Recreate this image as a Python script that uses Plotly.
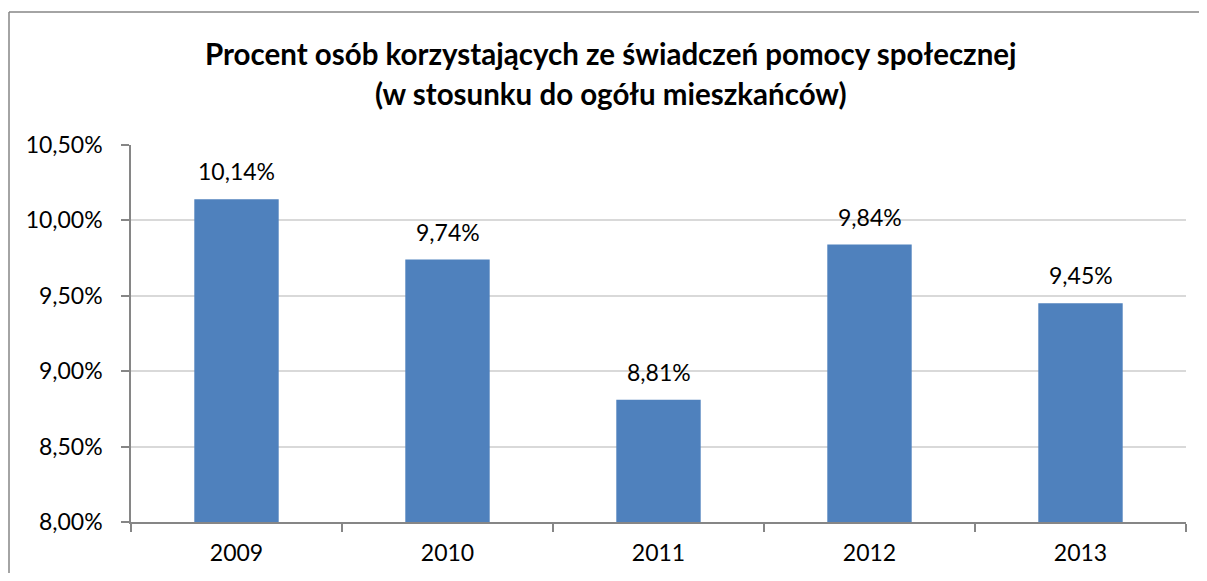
import plotly.graph_objects as go

years = ["2009", "2010", "2011", "2012", "2013"]
values = [10.14, 9.74, 8.81, 9.84, 9.45]
y_ticks = [8.0, 8.5, 9.0, 9.5, 10.0, 10.5]
title_lines = ["Procent osób korzystających ze świadczeń pomocy społecznej",
               "(w stosunku do ogółu mieszkańców)"]

FONT = "Lato"
OFF = 8  # page body margin
W, H = 1191, 565
L, T = 131 - OFF, 145 - OFF
R = W - (1186 - OFF)
B = H - (522 - OFF)
pw, ph = W - L - R, H - T - B

def fmt(v):
    return f"{v:.2f}".replace(".", ",") + "%"

fig = go.Figure()
fig.add_trace(go.Bar(x=years, y=values, marker=dict(color="#4F81BD", line=dict(width=0)),
                     width=0.4, hoverinfo="skip"))

for i, v in enumerate(values):
    fig.add_annotation(x=i, y=v, xref="x", yref="y", text=fmt(v), showarrow=False,
                       yanchor="bottom", yshift=12,
                       font=dict(family=FONT, size=23, color="#000000"))

# title lines
for i, line in enumerate(title_lines):
    fig.add_annotation(xref="paper", yref="paper", x=(611 - OFF - L) / pw,
                       y=1 + (T - (46 + 40 * i)) / ph, text="<b>" + line + "</b>",
                       showarrow=False, xanchor="center", yanchor="middle",
                       font=dict(family=FONT, size=29.5, color="#000000"))

# outer chart border (left and top edges; the rest lies outside the view)
bx = (9 - OFF - L) / pw
by = 1 + (T - (12 - OFF)) / ph
fig.add_shape(type="line", xref="paper", yref="paper", x0=bx, x1=bx, y0=-0.5, y1=by,
              line=dict(color="#868686", width=1.5), layer="below")
fig.add_shape(type="line", xref="paper", yref="paper", x0=bx, x1=1.2, y0=by, y1=by,
              line=dict(color="#868686", width=1.5), layer="below")

fig.update_layout(
    width=W, height=H, margin=dict(l=L, r=R, t=T, b=B, autoexpand=False),
    plot_bgcolor="white", paper_bgcolor="white", showlegend=False,
    separators=",.",
    font=dict(family=FONT, size=23, color="#000000"),
    xaxis=dict(type="category", range=[-0.5, 4.5], autorange=False,
               showline=True, linecolor="#868686", linewidth=1.5,
               ticks="outside", tickson="boundaries", ticklen=8, tickcolor="#868686",
               tickwidth=1.5, showgrid=False, tickfont=dict(size=23),
               ticklabelstandoff=10),
    yaxis=dict(range=[8.0, 10.5], autorange=False, tickvals=y_ticks,
               ticktext=[fmt(t) for t in y_ticks],
               showline=True, linecolor="#868686", linewidth=1.5, ticks="outside",
               ticklen=8, tickcolor="#868686", tickwidth=1.5,
               showgrid=True, gridcolor="#D9D9D9", gridwidth=1.5, zeroline=False,
               tickfont=dict(size=23), ticklabelstandoff=14),
)

fig.write_html("out.html")
